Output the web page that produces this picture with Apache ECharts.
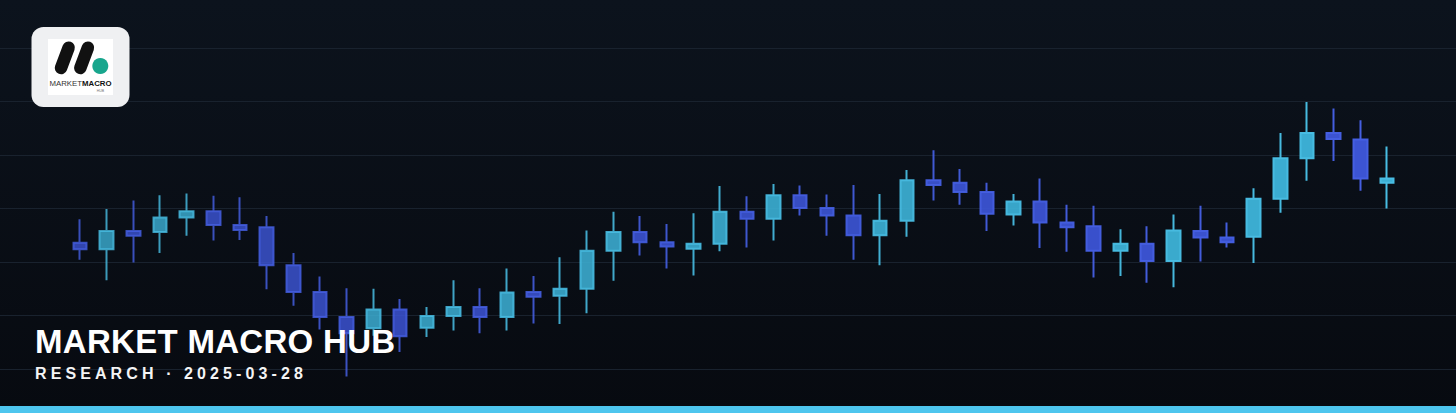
<!DOCTYPE html>
<html>
<head>
<meta charset="utf-8">
<script src="https://cdn.jsdelivr.net/npm/echarts@6/dist/echarts.min.js"></script>
<style>
html, body { margin: 0; padding: 0; background: #0a0f17; overflow: hidden; }
#chart { width: 1456px; height: 413px; }
#chart text[style*="16px"] { letter-spacing: 4.1px; }
#chart text[style*="33px"] { letter-spacing: 0.3px; }
</style>
</head>
<body>
<div id="chart"></div>
<script>
// ---- Data ----
const categories = ['1','2','3','4','5','6','7','8','9','10','11','12','13','14','15','16','17','18','19','20','21','22','23','24','25','26','27','28','29','30','31','32','33','34','35','36','37','38','39','40','41','42','43','44','45','46','47','48','49','50'];
const openValues  = [23.6,22.4,25.8,25.6,28.3,29.5,26.9,26.5,19.4,14.4, 9.7,7.6,11.1,7.7,9.9,11.6,9.7,14.4,13.7,15.0, 22.1,25.6,23.7,22.5,23.4,29.4,28.1,32.5,30.1,28.7, 25.0,27.7,35.3,34.8,33.1,28.9,31.3,27.4,26.7,22.1, 23.4,20.2,25.8,24.6,24.7,31.8,39.4,44.1,42.9,34.8];
const closeValues = [22.4,25.8,24.9,28.3,29.5,26.9,26.0,19.4,14.4,9.7, 6.7,11.1,6.1,9.9,11.6,9.7,14.3,13.5,15.0,22.1, 25.6,23.7,22.9,23.4,29.4,28.1,32.5,30.1,28.7,25.0, 27.7,35.3,34.4,33.1,29.0,31.3,27.4,26.5,22.1,23.4, 20.2,25.9,24.6,23.7,31.8,39.4,44.1,43.0,35.6,35.6];
const lowValues   = [20.4,16.6,19.9,21.7,24.9,24.0,24.1,14.9,11.8,7.4, -1.4,6.2,3.2,6.0,7.2,6.7,7.2,8.5,8.4,10.4, 16.5,21.2,18.8,17.5,22.0,22.7,24.0,28.7,24.9,20.4, 19.4,24.7,31.5,30.7,25.8,26.8,22.6,21.9,17.1,17.4, 16.1,15.3,20.1,22.7,19.8,29.2,35.2,38.9,33.3,30.0];
const highValues  = [28.0,29.9,31.5,32.5,32.8,32.4,32.1,28.6,21.7,17.3, 15.1,15.0,13.1,11.6,16.6,15.1,18.8,17.4,20.9,25.9, 29.4,28.6,27.1,29.1,34.2,32.3,34.6,34.3,32.6,34.4, 32.7,37.2,40.9,37.4,34.8,32.7,35.6,30.7,30.5,26.1, 26.7,28.9,30.5,27.4,33.8,44.1,49.9,48.7,46.5,41.6];
const titleText = 'MARKET MACRO HUB';
const subtitleText = 'RESEARCH · 2025-03-28';

// ---- Build ----
const n = categories.length;
const candleData = categories.map((c, i) => ({
  value: [openValues[i], closeValues[i], lowValues[i], highValues[i]],
  itemStyle: { opacity: 0.8 + 0.2 * i / (n - 1) }
}));

const chart = echarts.init(document.getElementById('chart'), null, { renderer: 'svg' });

const option = {
  animation: false,
  backgroundColor: {
    type: 'linear', x: 0, y: 0, x2: 0, y2: 1,
    colorStops: [
      { offset: 0, color: '#0c131d' },
      { offset: 1, color: '#070a10' }
    ]
  },
  grid: [
    { left: 0, right: 0, top: 48, bottom: 44 },
    { left: 66.66, right: 55.67, top: 48, bottom: 44 }
  ],
  xAxis: [
    { gridIndex: 0, type: 'value', min: 0, max: 1, show: false },
    { gridIndex: 1, type: 'category', data: categories, boundaryGap: true,
      axisLine: { show: false }, axisTick: { show: false }, axisLabel: { show: false }, splitLine: { show: false } }
  ],
  yAxis: [
    { gridIndex: 0, type: 'value', min: 0, max: 60, interval: 10,
      axisLine: { show: false }, axisTick: { show: false }, axisLabel: { show: false },
      splitLine: { show: true, lineStyle: { color: '#19222e', width: 1 } } },
    { gridIndex: 1, type: 'value', min: 0, max: 60, interval: 10,
      axisLine: { show: false }, axisTick: { show: false }, axisLabel: { show: false },
      splitLine: { show: false } }
  ],
  series: [{
    type: 'candlestick',
    xAxisIndex: 1,
    yAxisIndex: 1,
    clip: false,
    barWidth: 14,
    data: candleData,
    itemStyle: {
      color: '#3cafd4',
      color0: '#3c54d4',
      borderColor: '#48bde3',
      borderColor0: '#455fe2',
      borderWidth: 2
    },
    z: 2
  }],
  graphic: [
    { type: 'rect', z: 1, silent: true,
      shape: { x: 0, y: 406, width: 1456, height: 7 },
      style: { fill: '#4ec6ee' } },
    // logo
    { type: 'rect', z: 50, silent: true,
      shape: { x: 31.5, y: 27, width: 98, height: 80, r: 12 },
      style: { fill: '#eff0f2' } },
    { type: 'rect', z: 51, silent: true,
      shape: { x: 48, y: 39, width: 65, height: 56 },
      style: { fill: '#ffffff' } },
    { type: 'line', z: 52, silent: true,
      shape: { x1: 61, y1: 68, x2: 68.6, y2: 47.7 },
      style: { stroke: '#111111', lineWidth: 12.5, lineCap: 'round' } },
    { type: 'line', z: 52, silent: true,
      shape: { x1: 80.3, y1: 68, x2: 87.9, y2: 47.7 },
      style: { stroke: '#111111', lineWidth: 12.5, lineCap: 'round' } },
    { type: 'circle', z: 52, silent: true,
      shape: { cx: 100.3, cy: 66, r: 8 },
      style: { fill: '#18a68d' } },
    { type: 'text', z: 52, silent: true,
      style: { text: 'MARKET', x: 82, y: 83, align: 'right', verticalAlign: 'middle',
        fontSize: 7.8, fontFamily: 'Liberation Sans', fontWeight: 'normal', fill: '#333333' } },
    { type: 'text', z: 52, silent: true,
      style: { text: 'MACRO', x: 82, y: 83, align: 'left', verticalAlign: 'middle',
        fontSize: 7.8, fontFamily: 'Liberation Sans', fontWeight: 'bold', fill: '#111111' } },
    { type: 'text', z: 52, silent: true,
      style: { text: 'HUB', x: 100.5, y: 91, align: 'center', verticalAlign: 'middle',
        fontSize: 3.5, fontFamily: 'Liberation Sans', fill: '#777777' } },
    // titles
    { type: 'text', z: 100, silent: true,
      style: { text: titleText, x: 35, y: 341, align: 'left', verticalAlign: 'middle',
        fontSize: 33, fontFamily: 'Liberation Sans', fontWeight: 'bold', fill: '#ffffff' } },
    { type: 'text', z: 100, silent: true,
      style: { text: subtitleText, x: 35, y: 373.3, align: 'left', verticalAlign: 'middle',
        fontSize: 16, fontFamily: 'Liberation Sans', fontWeight: 'bold', fill: '#f4f4f4' } }
  ]
};
chart.setOption(option);
</script>
</body>
</html>
